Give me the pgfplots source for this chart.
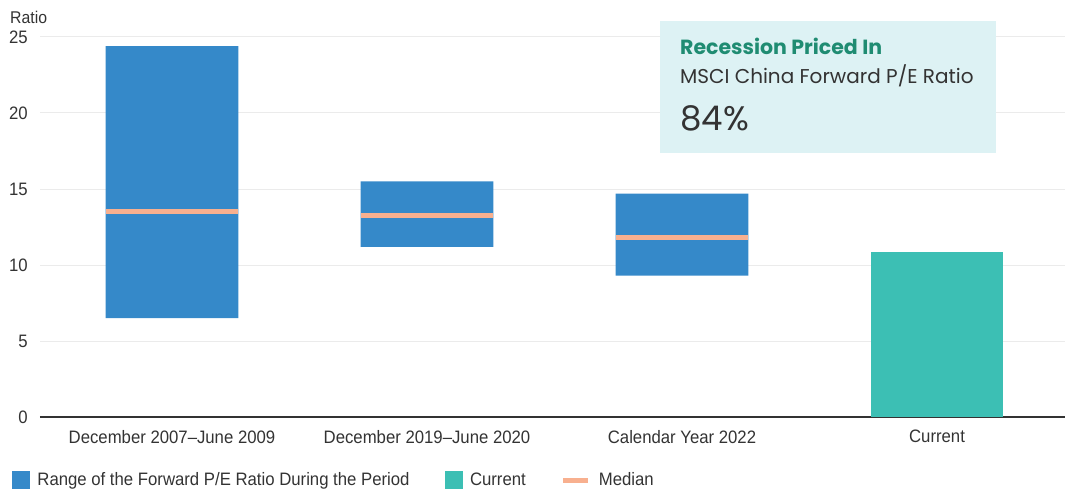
\documentclass[border=0pt]{standalone}
\usepackage{pgfplots}
\pgfplotsset{compat=1.18}
\usepackage{fontspec}
\setmainfont[FakeStretch=0.93]{Liberation Sans}
\newfontfamily\boxfont{Poppins}
\definecolor{barblue}{HTML}{3589C9}
\definecolor{curteal}{HTML}{3CBFB4}
\definecolor{medsalmon}{HTML}{F8B08F}
\definecolor{boxbg}{HTML}{DDF2F4}
\definecolor{boxgreen}{HTML}{1F8C72}
\definecolor{txt}{HTML}{333333}
\definecolor{gridc}{HTML}{EBEBEB}
\pgfplotsset{
  common/.style={
    at={(0,0)}, anchor=south west, scale only axis,
    width=1025pt, height=380pt,
    xmin=-0.5176, xmax=3.502, ymin=0, ymax=25,
    clip=false,
  }
}
\begin{document}
\begin{tikzpicture}[x=1pt,y=1pt]
\path[use as bounding box] (-40,-73) rectangle (1035,417);
\begin{axis}[common,
  ybar stacked, bar width=0.52,
  axis x line*=bottom, axis y line*=left,
  y axis line style={draw=none},
  x axis line style={draw=txt, line width=2.5pt},
  major tick length=0pt,
  ytick={0,5,10,15,20,25},
  /pgf/number format/assume math mode=true,
  ymajorgrids, grid style={gridc, line width=1pt},
  xtick={0,1,2,3},
  xticklabels={December 2007--June 2009, December 2019--June 2020, Calendar Year 2022, Current},
  tick label style={font=\fontsize{18}{21}\selectfont, text=txt},
  yticklabel style={anchor=east, inner sep=0pt},
  yticklabel shift=12pt,
  xticklabel style={anchor=north, inner sep=0pt},
  xticklabel shift=13pt,
]
\addplot[fill=none, draw=none] coordinates {(0,6.5) (1,11.2) (2,9.3)};
\addplot[fill=barblue, draw=none] coordinates {(0,17.9) (1,4.3) (2,5.4)};
\node[anchor=west, inner sep=0pt, font=\fontsize{17}{20}\selectfont, text=txt]
  at (rel axis cs:-0.0293,1) [yshift=20pt] {Ratio};
\end{axis}
\begin{axis}[common, hide axis,
  legend style={at={(rel axis cs:-0.0273,-0.1658)}, anchor=west, draw=none, fill=none,
    inner sep=0pt, outer sep=0pt, legend columns=3,
    nodes={inner sep=0pt, anchor=west},
    font=\fontsize{18}{21}\selectfont, text=txt,
    /tikz/every odd column/.append style={column sep=8pt},
    /tikz/every even column/.append style={column sep=35pt}},
]
\fill[boxbg] (axis cs:1.914,17.37) rectangle (axis cs:3.231,26.05);
\addplot[ybar, bar width=0.52, bar shift=0pt, fill=curteal, draw=none, forget plot]
  coordinates {(3,10.88)};
\addplot[only marks, mark=-, mark size=66.3pt, mark options={draw=medsalmon, line width=5pt}, forget plot]
  coordinates {(0,13.5) (1,13.27) (2,11.8)};
\addlegendimage{legend image code/.code={\fill[barblue] (0pt,-8.5pt) rectangle (17pt,8.5pt);}}
\addlegendentry{Range of the Forward P/E Ratio During the Period}
\addlegendimage{legend image code/.code={\fill[curteal] (0pt,-8.5pt) rectangle (17pt,8.5pt);}}
\addlegendentry{Current}
\addlegendimage{legend image code/.code={\draw[medsalmon, line width=5pt] (0pt,0pt) -- (25pt,0pt);}}
\addlegendentry{Median}
\node[anchor=base west, inner sep=0pt, text=boxgreen, font=\boxfont\bfseries\fontsize{20.5}{24}\selectfont]
  at (axis cs:1.992,23.82) {Recession Priced In};
\node[anchor=base west, inner sep=0pt, text=txt, font=\boxfont\fontsize{20}{24}\selectfont]
  at (axis cs:1.992,21.97) {MSCI China Forward P/E Ratio};
\node[anchor=base west, inner sep=0pt, text=txt, font=\boxfont\fontsize{34}{40}\selectfont]
  at (axis cs:1.992,18.88) {84\%};
\end{axis}
\end{tikzpicture}
\end{document}
